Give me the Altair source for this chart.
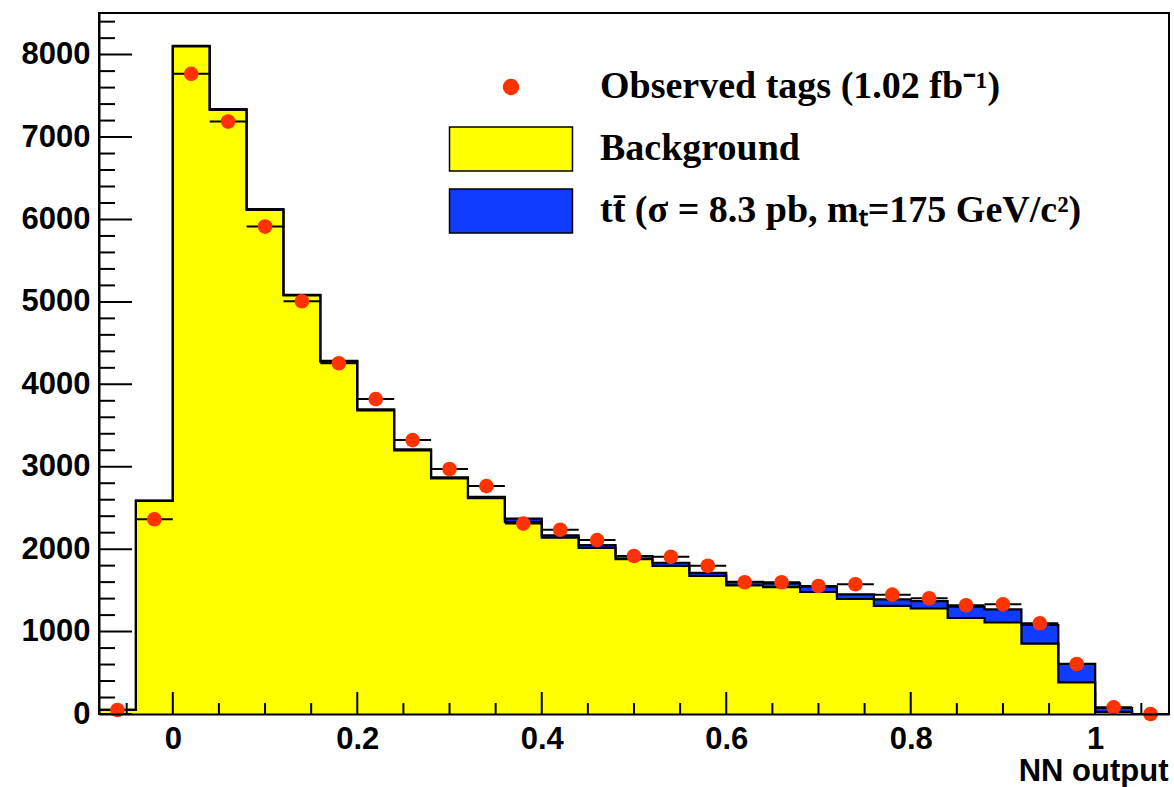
import altair as alt
import pandas as pd

# ---- data ----
centers = [-0.06, -0.02, 0.02, 0.06, 0.10, 0.14, 0.18, 0.22, 0.26, 0.30, 0.34, 0.38,
           0.42, 0.46, 0.50, 0.54, 0.58, 0.62, 0.66, 0.70, 0.74, 0.78, 0.82, 0.86,
           0.90, 0.94, 0.98, 1.02, 1.06]
observed = [49, 2363, 7767, 7188, 5914, 5008, 4256, 3821, 3323, 2973, 2765, 2310,
            2235, 2110, 1917, 1907, 1798, 1598, 1598, 1553, 1574, 1448, 1404, 1319,
            1331, 1101, 607, 81, 0]
background = [50, 2585, 8100, 7330, 6115, 5078, 4275, 3685, 3198, 2858, 2620, 2330,
              2140, 2015, 1880, 1797, 1675, 1560, 1540, 1480, 1395, 1311, 1280, 1165,
              1110, 855, 383, 26, 0]
ttbar = [0, 4, 7, 9, 10, 7, 9, 10, 12, 12, 15, 40,
         28, 35, 37, 38, 37, 44, 45, 65, 57, 79, 90, 137,
         160, 225, 224, 47, 0]
bin_width = 0.04

x_major = [0, 0.2, 0.4, 0.6, 0.8, 1.0]
x_minor = [-0.05, 0.05, 0.1, 0.15, 0.25, 0.3, 0.35, 0.45, 0.5, 0.55, 0.65, 0.7, 0.75,
           0.85, 0.9, 0.95, 1.05]
y_major = [0, 1000, 2000, 3000, 4000, 5000, 6000, 7000, 8000]
y_minor = [v for v in range(200, 8600, 200) if v % 1000 != 0]

legend_labels = ["Observed tags (1.02 fb\u207b\u00b9)",
                 "Background",
                 "tt\u0304 (\u03c3 = 8.3 pb, m\u209c=175 GeV/c\u00b2)"]

# ---- style ----
W, H = 1070, 701
RED = "#ff3300"
YELLOW = "#ffff00"
BLUE = "#0f3cff"
SANS = "Liberation Sans"
SERIF = "Liberation Serif"

total = [b + s for b, s in zip(background, ttbar)]
lo = [c - bin_width / 2 for c in centers]
hi = [c + bin_width / 2 for c in centers]

step_df = pd.DataFrame({
    "edge": lo + [hi[-1]],
    "bkg": background + [background[-1]],
    "tot": total + [total[-1]],
})
obs_df = pd.DataFrame({"c": centers, "lo": lo, "hi": hi, "obs": observed})

xscale = alt.Scale(domain=[-0.08, 1.08], nice=False, zero=False)
yscale = alt.Scale(domain=[0, 8505], nice=False)

x_axis = alt.Axis(values=x_major, format="~g", ticks=False, tickSize=0, domain=True,
                  domainColor="black", domainWidth=2, labelFont=SANS, labelFontWeight="bold",
                  labelFontSize=31, labelColor="black", labelPadding=10, grid=False,
                  title="NN output", titleFont=SANS, titleFontWeight="bold", titleFontSize=31,
                  titleColor="black", titleAnchor="end", titleAlign="right",
                  titleX=W - 1, titleY=66, titleBaseline="alphabetic", zindex=1)
y_axis = alt.Axis(values=y_major, format="d", ticks=False, tickSize=0, domain=True,
                  domainColor="black", domainWidth=2, labelFont=SANS, labelFontWeight="bold",
                  labelFontSize=31, labelColor="black", labelPadding=9, grid=False,
                  title=None, zindex=1)


def X(field):
    return alt.X(field, scale=xscale, axis=x_axis)


def Y(field):
    return alt.Y(field, scale=yscale, axis=y_axis)


base = alt.Chart(step_df)
area_tot = base.mark_area(interpolate="step-after", color=BLUE, opacity=1).encode(
    x=X("edge:Q"), y=Y("tot:Q"))
area_bkg = base.mark_area(interpolate="step-after", color=YELLOW, opacity=1).encode(
    x=X("edge:Q"), y=Y("bkg:Q"))
line_tot = base.mark_line(interpolate="step-after", color="black", strokeWidth=2.2).encode(
    x=X("edge:Q"), y=Y("tot:Q"))
line_bkg = base.mark_line(interpolate="step-after", color="black", strokeWidth=2.2).encode(
    x=X("edge:Q"), y=Y("bkg:Q"))

err = alt.Chart(obs_df).mark_rule(color="black", strokeWidth=2).encode(
    x=X("lo:Q"), x2="hi:Q", y=Y("obs:Q"))
dots = alt.Chart(obs_df).mark_circle(size=215, color=RED, opacity=1).encode(
    x=X("c:Q"), y=Y("obs:Q"))

ymaj = alt.Chart(pd.DataFrame({"v": y_major})).mark_rule(color="black", strokeWidth=2).encode(
    y=Y("v:Q"), x=alt.value(0), x2=alt.value(33))
ymin = alt.Chart(pd.DataFrame({"v": y_minor})).mark_rule(color="black", strokeWidth=2).encode(
    y=Y("v:Q"), x=alt.value(0), x2=alt.value(16))
xmaj = alt.Chart(pd.DataFrame({"v": x_major})).mark_rule(color="black", strokeWidth=2).encode(
    x=X("v:Q"), y=alt.value(H), y2=alt.value(H - 22))
xmin = alt.Chart(pd.DataFrame({"v": x_minor})).mark_rule(color="black", strokeWidth=2).encode(
    x=X("v:Q"), y=alt.value(H), y2=alt.value(H - 11))

circ = "M-0.34,0A0.34,0.34,0,1,0,0.34,0A0.34,0.34,0,1,0,-0.34,0Z M0,-1L0,-1 M0,1L0,1"
box = "M-2.795,-1L2.795,-1L2.795,1L-2.795,1Z"
leg = alt.Legend(orient="none", legendX=389, legendY=51, direction="vertical", title=None,
                 labelFont=SERIF, labelFontWeight="bold", labelFontSize=38, labelColor="black",
                 labelLimit=0, labelOffset=66, symbolSize=1936, symbolStrokeWidth=1.5,
                 symbolOpacity=1, rowPadding=12, padding=0)
legend_layer = alt.Chart(pd.DataFrame({"series": legend_labels})).mark_point(
    filled=True, opacity=1).encode(
    fill=alt.Fill("series:N", scale=alt.Scale(domain=legend_labels, range=[RED, YELLOW, BLUE]), legend=leg),
    stroke=alt.Stroke("series:N", scale=alt.Scale(domain=legend_labels, range=[RED, "black", "black"]), legend=leg),
    shape=alt.Shape("series:N", scale=alt.Scale(domain=legend_labels, range=[circ, box, box]), legend=leg),
).transform_filter("false")

chart = alt.layer(
    area_tot, area_bkg, line_tot, line_bkg, err, ymaj, ymin, xmaj, xmin, dots, legend_layer
).properties(
    width=W, height=H,
    autosize=alt.AutoSizeParams(type="none"),
    padding={"left": 99, "top": 13, "right": 5, "bottom": 73},
    background="white",
).configure_view(stroke="black", strokeWidth=2)

chart.save("out.html", embed_options={"renderer": "svg", "actions": False})
